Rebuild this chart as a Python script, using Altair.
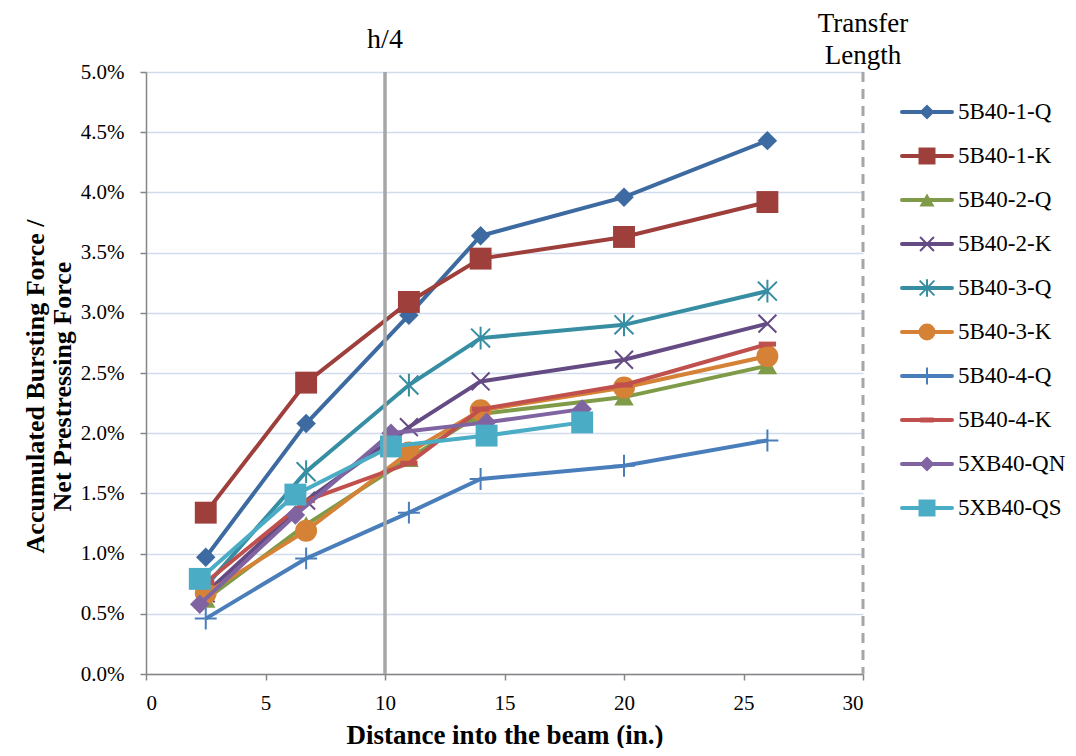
import altair as alt
import pandas as pd

# ---------------- data ----------------
series = ["5B40-1-Q", "5B40-1-K", "5B40-2-Q", "5B40-2-K", "5B40-3-Q",
          "5B40-3-K", "5B40-4-Q", "5B40-4-K", "5XB40-QN", "5XB40-QS"]
colors = ["#3D6BA1", "#9E3F3C", "#7F9B48", "#654B83", "#378EA3",
          "#D58236", "#4A7EBB", "#C0504D", "#8064A2", "#4BACC6"]

x_main = [2.5, 6.7, 11.0, 14.0, 20.0, 26.0]
x_xb = [2.25, 6.25, 10.25, 14.25, 18.25]

y_1Q = [0.97, 2.08, 2.98, 3.64, 3.96, 4.43]
y_1K = [1.34, 2.42, 3.09, 3.45, 3.63, 3.92]
y_2Q = [0.62, 1.24, 1.79, 2.16, 2.30, 2.56]
y_2K = [0.67, 1.44, 2.05, 2.43, 2.61, 2.91]
y_3Q = [0.73, 1.68, 2.40, 2.79, 2.90, 3.18]
y_3K = [0.67, 1.19, 1.84, 2.19, 2.38, 2.64]
y_4Q = [0.46, 0.96, 1.34, 1.62, 1.73, 1.94]
y_4K = [0.76, 1.44, 1.75, 2.20, 2.40, 2.74]
y_QN = [0.58, 1.32, 2.00, 2.09, 2.20]
y_QS = [0.79, 1.49, 1.89, 1.98, 2.09]

ref_lines = [10, 30]
ref_labels = ["h/4", "Transfer\nLength"]
y_ticks = [0, 0.5, 1, 1.5, 2, 2.5, 3, 3.5, 4, 4.5, 5]
x_ticks = [0, 5, 10, 15, 20, 25, 30]

series_x = [x_main] * 8 + [x_xb] * 2
series_y = [y_1Q, y_1K, y_2Q, y_2K, y_3Q, y_3K, y_4Q, y_4K, y_QN, y_QS]

rows = []
for s, xs_, ys_ in zip(series, series_x, series_y):
    for xv, yv in zip(xs_, ys_):
        rows.append({"series": s, "x": xv, "y": yv})
df = pd.DataFrame(rows)
leg_df = pd.DataFrame({"series": series})

# marker styles: shape, filled, size, strokeWidth
X_PATH = "M-1,-1L1,1M-1,1L1,-1"
AST_PATH = "M-1,-1L1,1M-1,1L1,-1M0,-1.2L0,1.2"
PLUS_PATH = "M-1,0L1,0M0,-1L0,1"
DASH_PATH = "M-1,0L1,0"
markers = [
    ("diamond", True, 380, 1),
    ("square", True, 480, 1),
    ("triangle-up", True, 380, 1),
    (X_PATH, False, 320, 2),
    (AST_PATH, False, 360, 2),
    ("circle", True, 480, 1),
    (PLUS_PATH, False, 480, 2),
    (DASH_PATH, False, 300, 5),
    ("diamond", True, 380, 1),
    ("square", True, 480, 1),
]

FONT = "Liberation Serif"
W, H = 717, 602
TOTAL_W, TOTAL_H = 1060, 740
PAD_L, PAD_T = 138, 64

xs = alt.X("x:Q", scale=alt.Scale(domain=[0, 30], nice=False),
           axis=alt.Axis(values=x_ticks, title="Distance into the beam (in.)",
                         grid=False, titleY=61, titleBaseline="middle",
                         titleFontSize=27, labelPadding=12))
ys = alt.Y("y:Q", scale=alt.Scale(domain=[0, 5], nice=False),
           axis=alt.Axis(values=y_ticks,
                         labelExpr="format(datum.value, '.1f') + '%'",
                         title=["Accumulated Bursting Force /", "Net Prestressing Force"],
                         titleX=-111, titleY=314, titleAngle=-90,
                         titleAlign="center", titleBaseline="middle",
                         titleLineHeight=27, titleFontSize=26,
                         grid=True, gridColor="#D0DBEC", gridWidth=1.5,
                         labelPadding=16))

layers = []
for i, s in enumerate(series):
    shape, filled, size, sw = markers[i]
    base = alt.Chart(df).transform_filter(alt.datum.series == s)
    line = base.mark_line(color=colors[i], strokeWidth=4).encode(x=xs, y=ys)
    if filled:
        pt = base.mark_point(shape=shape, filled=True, size=size, color=colors[i],
                             opacity=1).encode(x=xs, y=ys)
    else:
        pt = base.mark_point(shape=shape, filled=False, size=size, color=colors[i],
                             strokeWidth=sw, opacity=1).encode(x=xs, y=ys)
    layers += [line, pt]

ref_df = pd.DataFrame({"x": ref_lines})
h4 = alt.Chart(ref_df[ref_df.x == 10]).mark_rule(color="#A6A6A6", strokeWidth=3.5).encode(x=xs)
tl = alt.Chart(ref_df[ref_df.x == 30]).mark_rule(color="#A6A6A6", strokeWidth=3,
                                                 strokeDash=[10, 7]).encode(x=xs)

lab_df = pd.DataFrame({"x": ref_lines, "label": [l.split("\n") for l in ref_labels]})
h4_lab = alt.Chart(lab_df.iloc[[0]]).mark_text(font=FONT, fontSize=28, color="#000000",
                                               baseline="middle").encode(
    x=xs, y=alt.value(-32), text="label:N")
tl_lab = alt.Chart(lab_df.iloc[[1]]).mark_text(font=FONT, fontSize=27, color="#000000",
                                               baseline="middle", lineHeight=32).encode(
    x=xs, y=alt.value(-48), text="label:N")

main = alt.layer(*layers, h4, tl, h4_lab, tl_lab)

# ---------------- manual legend ----------------
ly = alt.Y("series:N", scale=alt.Scale(type="point", domain=series, range=[40, 436],
                                       padding=0), axis=None)
leg_layers = []
for i, s in enumerate(series):
    shape, filled, size, sw = markers[i]
    b = alt.Chart(leg_df).transform_filter(alt.datum.series == s)
    leg_layers.append(b.mark_rule(color=colors[i], strokeWidth=4, strokeCap="round").encode(
        x=alt.value(756), x2=alt.value(806), y=ly))
    leg_layers.append(b.mark_point(shape=shape, filled=filled, size=size * 0.6,
                                   color=colors[i], strokeWidth=sw if not filled else 1,
                                   opacity=1).encode(x=alt.value(781), y=ly))
    leg_layers.append(b.mark_text(font=FONT, fontSize=23, align="left", baseline="middle",
                                  color="#000000").encode(x=alt.value(812), y=ly,
                                                          text="series:N"))
legend = alt.layer(*leg_layers)

chart = alt.layer(main, legend).resolve_scale(y="independent").properties(
    width=W, height=H,
    autosize=alt.AutoSizeParams(type="none"),
    padding={"left": PAD_L, "top": PAD_T, "right": TOTAL_W - PAD_L - W,
             "bottom": TOTAL_H - PAD_T - H},
    background="#FFFFFF",
).configure_view(stroke=None).configure_axis(
    labelFont=FONT, titleFont=FONT, labelFontSize=21, labelColor="#000000",
    titleColor="#000000", titleFontWeight="bold",
    domainColor="#868686", domainWidth=1.5, tickColor="#868686", tickWidth=1.5,
    tickSize=6,
)

chart.save("out.html", embed_options={"renderer": "svg", "actions": False})
